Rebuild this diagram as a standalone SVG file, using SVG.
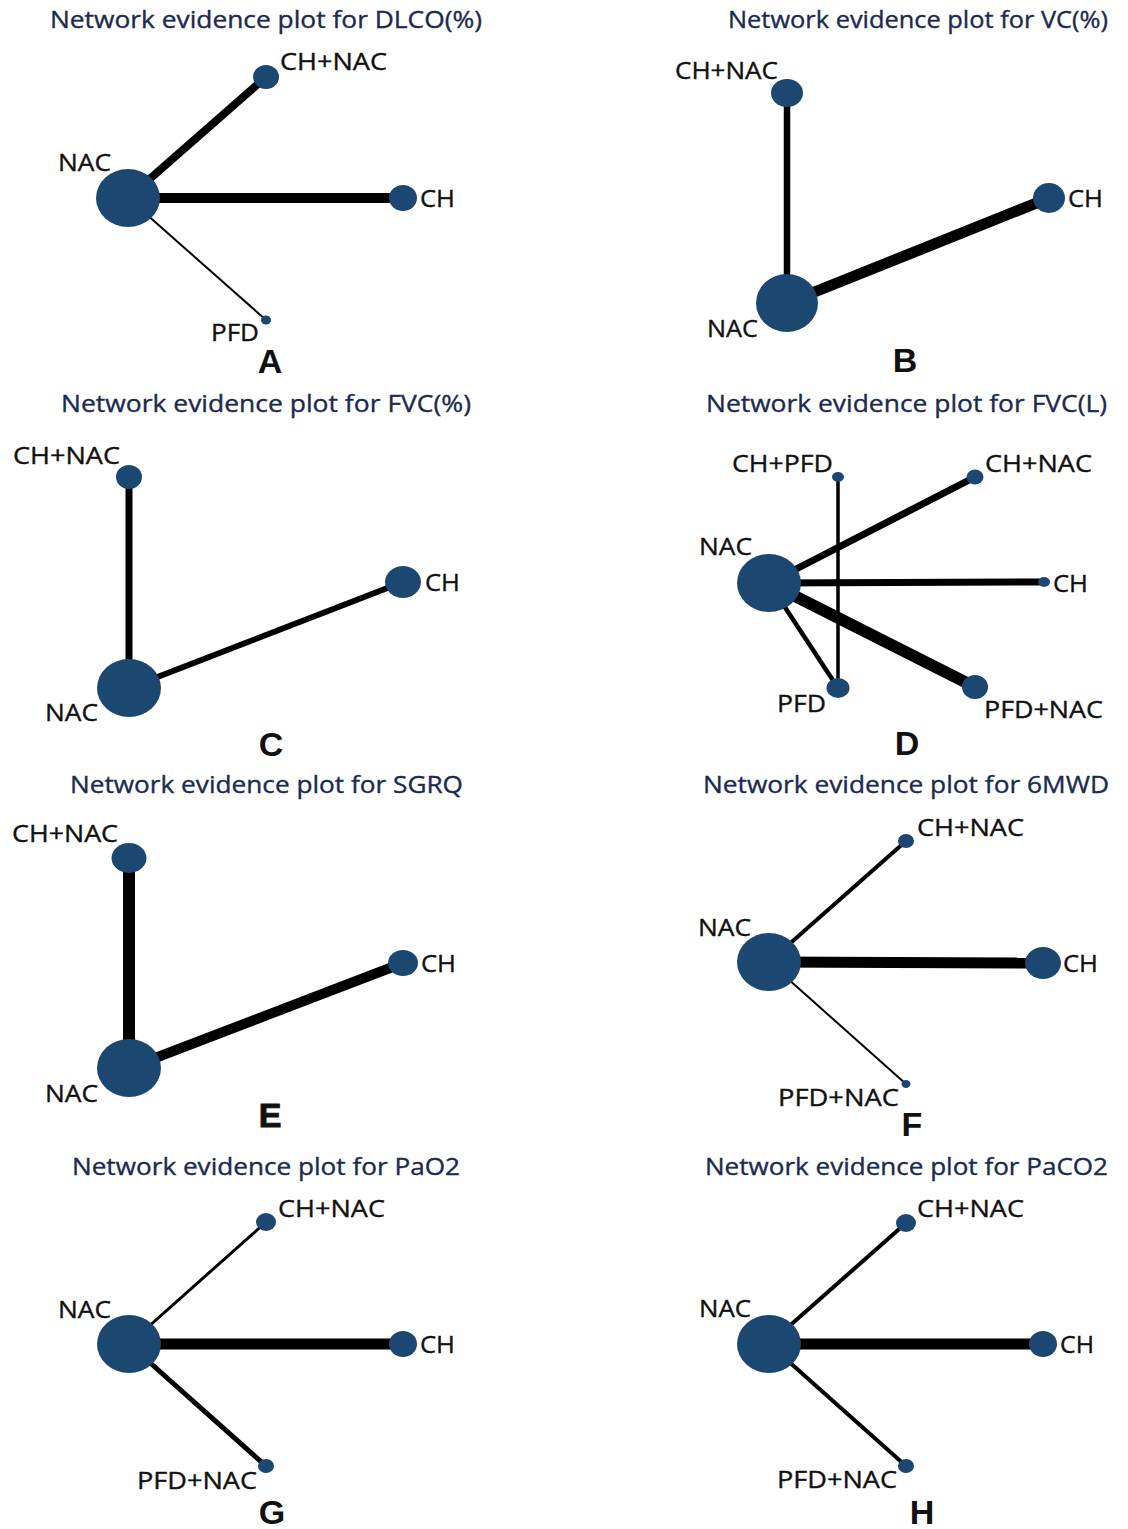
<svg xmlns="http://www.w3.org/2000/svg" width="1128" height="1529" viewBox="0 0 1128 1529">
<style>
.t{font-family:"Open Sans","Noto Sans",sans-serif;font-size:23px;fill:#1b2a50;stroke:#1b2a50;stroke-width:0.35}
.l{font-family:"Open Sans","Noto Sans",sans-serif;font-size:23.5px;fill:#111;stroke:#111;stroke-width:0.35}
.p{font-family:"Liberation Sans",Arial,sans-serif;font-size:34px;font-weight:bold;fill:#111;text-anchor:middle}
.n{fill:#1b4770}
.e{stroke:#000;fill:none}
</style>
<rect width="1128" height="1529" fill="#fff"/>

<!-- Panel A -->
<g id="panelA">
<text class="t" x="50" y="28" textLength="432" lengthAdjust="spacingAndGlyphs">Network evidence plot for DLCO(%)</text>
<g id="A-edges">
<line class="e" x1="128" y1="198" x2="403" y2="198" stroke-width="10"/>
<line class="e" x1="128" y1="198" x2="266" y2="77" stroke-width="8"/>
<line class="e" x1="128" y1="198" x2="266" y2="320" stroke-width="2"/>
</g>
<g id="A-NAC"><ellipse class="n" cx="128" cy="198" rx="32" ry="29"/><text class="l" x="58" y="171" textLength="53" lengthAdjust="spacingAndGlyphs">NAC</text></g>
<g id="A-CHNAC"><ellipse class="n" cx="266" cy="77" rx="13" ry="12"/><text class="l" x="280" y="70" textLength="107" lengthAdjust="spacingAndGlyphs">CH+NAC</text></g>
<g id="A-CH"><ellipse class="n" cx="403" cy="198" rx="14" ry="13"/><text class="l" x="420" y="207" textLength="35" lengthAdjust="spacingAndGlyphs">CH</text></g>
<g id="A-PFD"><ellipse class="n" cx="266" cy="320" rx="5" ry="4.5"/><text class="l" x="211" y="341" textLength="48" lengthAdjust="spacingAndGlyphs">PFD</text></g>
<text class="p" x="270" y="373">A</text>
</g>

<!-- Panel B -->
<g id="panelB">
<text class="t" x="728" y="28" textLength="380" lengthAdjust="spacingAndGlyphs">Network evidence plot for VC(%)</text>
<g id="B-edges">
<line class="e" x1="787" y1="303" x2="787" y2="93" stroke-width="6.5"/>
<line class="e" x1="787" y1="303" x2="1049" y2="198" stroke-width="11"/>
</g>
<g id="B-NAC"><ellipse class="n" cx="787" cy="303" rx="31" ry="29"/><text class="l" x="707" y="337" textLength="51" lengthAdjust="spacingAndGlyphs">NAC</text></g>
<g id="B-CHNAC"><ellipse class="n" cx="787" cy="93" rx="16" ry="14"/><text class="l" x="675" y="79" textLength="103" lengthAdjust="spacingAndGlyphs">CH+NAC</text></g>
<g id="B-CH"><ellipse class="n" cx="1049" cy="198" rx="16" ry="15"/><text class="l" x="1068" y="207" textLength="35" lengthAdjust="spacingAndGlyphs">CH</text></g>
<text class="p" x="905" y="372">B</text>
</g>

<!-- Panel C -->
<g id="panelC">
<text class="t" x="61" y="412" textLength="410" lengthAdjust="spacingAndGlyphs">Network evidence plot for FVC(%)</text>
<g id="C-edges">
<line class="e" x1="129" y1="688" x2="129" y2="477" stroke-width="7"/>
<line class="e" x1="129" y1="688" x2="403" y2="582" stroke-width="6"/>
</g>
<g id="C-NAC"><ellipse class="n" cx="129" cy="688" rx="32" ry="29"/><text class="l" x="45" y="721" textLength="53" lengthAdjust="spacingAndGlyphs">NAC</text></g>
<g id="C-CHNAC"><ellipse class="n" cx="129" cy="477" rx="13" ry="12"/><text class="l" x="13" y="464" textLength="107" lengthAdjust="spacingAndGlyphs">CH+NAC</text></g>
<g id="C-CH"><ellipse class="n" cx="403" cy="582" rx="18" ry="16"/><text class="l" x="425" y="591" textLength="35" lengthAdjust="spacingAndGlyphs">CH</text></g>
<text class="p" x="271" y="756">C</text>
</g>

<!-- Panel D -->
<g id="panelD">
<text class="t" x="706" y="412" textLength="401" lengthAdjust="spacingAndGlyphs">Network evidence plot for FVC(L)</text>
<g id="D-edges">
<line class="e" x1="769" y1="583" x2="975" y2="477" stroke-width="7"/>
<line class="e" x1="769" y1="583" x2="1044" y2="582" stroke-width="7"/>
<line class="e" x1="769" y1="583" x2="975" y2="687" stroke-width="12"/>
<line class="e" x1="769" y1="583" x2="838" y2="688" stroke-width="4.5"/>
<line class="e" x1="838" y1="477" x2="838" y2="688" stroke-width="3.5"/>
</g>
<g id="D-NAC"><ellipse class="n" cx="769" cy="583" rx="32" ry="29"/><text class="l" x="699" y="555" textLength="53" lengthAdjust="spacingAndGlyphs">NAC</text></g>
<g id="D-CHPFD"><ellipse class="n" cx="838" cy="477" rx="6" ry="5"/><text class="l" x="732" y="472" textLength="101" lengthAdjust="spacingAndGlyphs">CH+PFD</text></g>
<g id="D-CHNAC"><ellipse class="n" cx="975" cy="477" rx="8.5" ry="7.5"/><text class="l" x="985" y="472" textLength="107" lengthAdjust="spacingAndGlyphs">CH+NAC</text></g>
<g id="D-CH"><ellipse class="n" cx="1044" cy="582" rx="6" ry="5"/><text class="l" x="1053" y="592" textLength="35" lengthAdjust="spacingAndGlyphs">CH</text></g>
<g id="D-PFD"><ellipse class="n" cx="838" cy="688" rx="11.5" ry="10"/><text class="l" x="777" y="712" textLength="49" lengthAdjust="spacingAndGlyphs">PFD</text></g>
<g id="D-PFDNAC"><ellipse class="n" cx="975" cy="687" rx="13" ry="12"/><text class="l" x="984" y="718" textLength="119" lengthAdjust="spacingAndGlyphs">PFD+NAC</text></g>
<text class="p" x="907" y="755">D</text>
</g>

<!-- Panel E -->
<g id="panelE">
<text class="t" x="70" y="793" textLength="393" lengthAdjust="spacingAndGlyphs">Network evidence plot for SGRQ</text>
<g id="E-edges">
<line class="e" x1="129" y1="1068" x2="129" y2="858" stroke-width="12"/>
<line class="e" x1="129" y1="1068" x2="403" y2="963" stroke-width="10"/>
</g>
<g id="E-NAC"><ellipse class="n" cx="129" cy="1068" rx="32" ry="29"/><text class="l" x="45" y="1102" textLength="53" lengthAdjust="spacingAndGlyphs">NAC</text></g>
<g id="E-CHNAC"><ellipse class="n" cx="129" cy="858" rx="17.5" ry="15"/><text class="l" x="12" y="842" textLength="106" lengthAdjust="spacingAndGlyphs">CH+NAC</text></g>
<g id="E-CH"><ellipse class="n" cx="403" cy="963" rx="15" ry="13"/><text class="l" x="421" y="972" textLength="35" lengthAdjust="spacingAndGlyphs">CH</text></g>
<text class="p" x="270" y="1127" font-weight="normal" stroke="#111" stroke-width="1">E</text>
</g>

<!-- Panel F -->
<g id="panelF">
<text class="t" x="703" y="793" textLength="406" lengthAdjust="spacingAndGlyphs">Network evidence plot for 6MWD</text>
<g id="F-edges">
<line class="e" x1="769" y1="962" x2="906" y2="841" stroke-width="4"/>
<line class="e" x1="769" y1="962" x2="1043" y2="963" stroke-width="11"/>
<line class="e" x1="769" y1="962" x2="906" y2="1084" stroke-width="2"/>
</g>
<g id="F-NAC"><ellipse class="n" cx="769" cy="962" rx="32" ry="29"/><text class="l" x="698" y="936" textLength="53" lengthAdjust="spacingAndGlyphs">NAC</text></g>
<g id="F-CHNAC"><ellipse class="n" cx="906" cy="841" rx="8" ry="7"/><text class="l" x="917" y="836" textLength="107" lengthAdjust="spacingAndGlyphs">CH+NAC</text></g>
<g id="F-CH"><ellipse class="n" cx="1043" cy="963" rx="18" ry="16"/><text class="l" x="1063" y="972" textLength="35" lengthAdjust="spacingAndGlyphs">CH</text></g>
<g id="F-PFDNAC"><ellipse class="n" cx="906" cy="1084" rx="4.5" ry="4"/><text class="l" x="778" y="1106" textLength="121" lengthAdjust="spacingAndGlyphs">PFD+NAC</text></g>
<text class="p" x="912" y="1136">F</text>
</g>

<!-- Panel G -->
<g id="panelG">
<text class="t" x="72" y="1175" textLength="388" lengthAdjust="spacingAndGlyphs">Network evidence plot for PaO2</text>
<g id="G-edges">
<line class="e" x1="129" y1="1344" x2="266" y2="1222" stroke-width="3"/>
<line class="e" x1="129" y1="1344" x2="403" y2="1344" stroke-width="11"/>
<line class="e" x1="129" y1="1344" x2="266" y2="1466" stroke-width="5"/>
</g>
<g id="G-NAC"><ellipse class="n" cx="129" cy="1344" rx="32" ry="29"/><text class="l" x="58" y="1318" textLength="53" lengthAdjust="spacingAndGlyphs">NAC</text></g>
<g id="G-CHNAC"><ellipse class="n" cx="266" cy="1222" rx="10" ry="9"/><text class="l" x="278" y="1217" textLength="107" lengthAdjust="spacingAndGlyphs">CH+NAC</text></g>
<g id="G-CH"><ellipse class="n" cx="403" cy="1344" rx="14" ry="13"/><text class="l" x="420" y="1353" textLength="35" lengthAdjust="spacingAndGlyphs">CH</text></g>
<g id="G-PFDNAC"><ellipse class="n" cx="266" cy="1466" rx="8" ry="7"/><text class="l" x="137" y="1489" textLength="120" lengthAdjust="spacingAndGlyphs">PFD+NAC</text></g>
<text class="p" x="272" y="1524">G</text>
</g>

<!-- Panel H -->
<g id="panelH">
<text class="t" x="705" y="1175" textLength="403" lengthAdjust="spacingAndGlyphs">Network evidence plot for PaCO2</text>
<g id="H-edges">
<line class="e" x1="769" y1="1344" x2="906" y2="1223" stroke-width="4"/>
<line class="e" x1="769" y1="1344" x2="1043" y2="1344" stroke-width="11"/>
<line class="e" x1="769" y1="1344" x2="906" y2="1466" stroke-width="4"/>
</g>
<g id="H-NAC"><ellipse class="n" cx="769" cy="1344" rx="32" ry="29"/><text class="l" x="699" y="1317" textLength="52" lengthAdjust="spacingAndGlyphs">NAC</text></g>
<g id="H-CHNAC"><ellipse class="n" cx="906" cy="1223" rx="10" ry="9"/><text class="l" x="917" y="1217" textLength="107" lengthAdjust="spacingAndGlyphs">CH+NAC</text></g>
<g id="H-CH"><ellipse class="n" cx="1043" cy="1344" rx="14" ry="13"/><text class="l" x="1060" y="1353" textLength="34" lengthAdjust="spacingAndGlyphs">CH</text></g>
<g id="H-PFDNAC"><ellipse class="n" cx="906" cy="1466" rx="8" ry="7"/><text class="l" x="777" y="1488" textLength="120" lengthAdjust="spacingAndGlyphs">PFD+NAC</text></g>
<text class="p" x="922" y="1524">H</text>
</g>
</svg>
